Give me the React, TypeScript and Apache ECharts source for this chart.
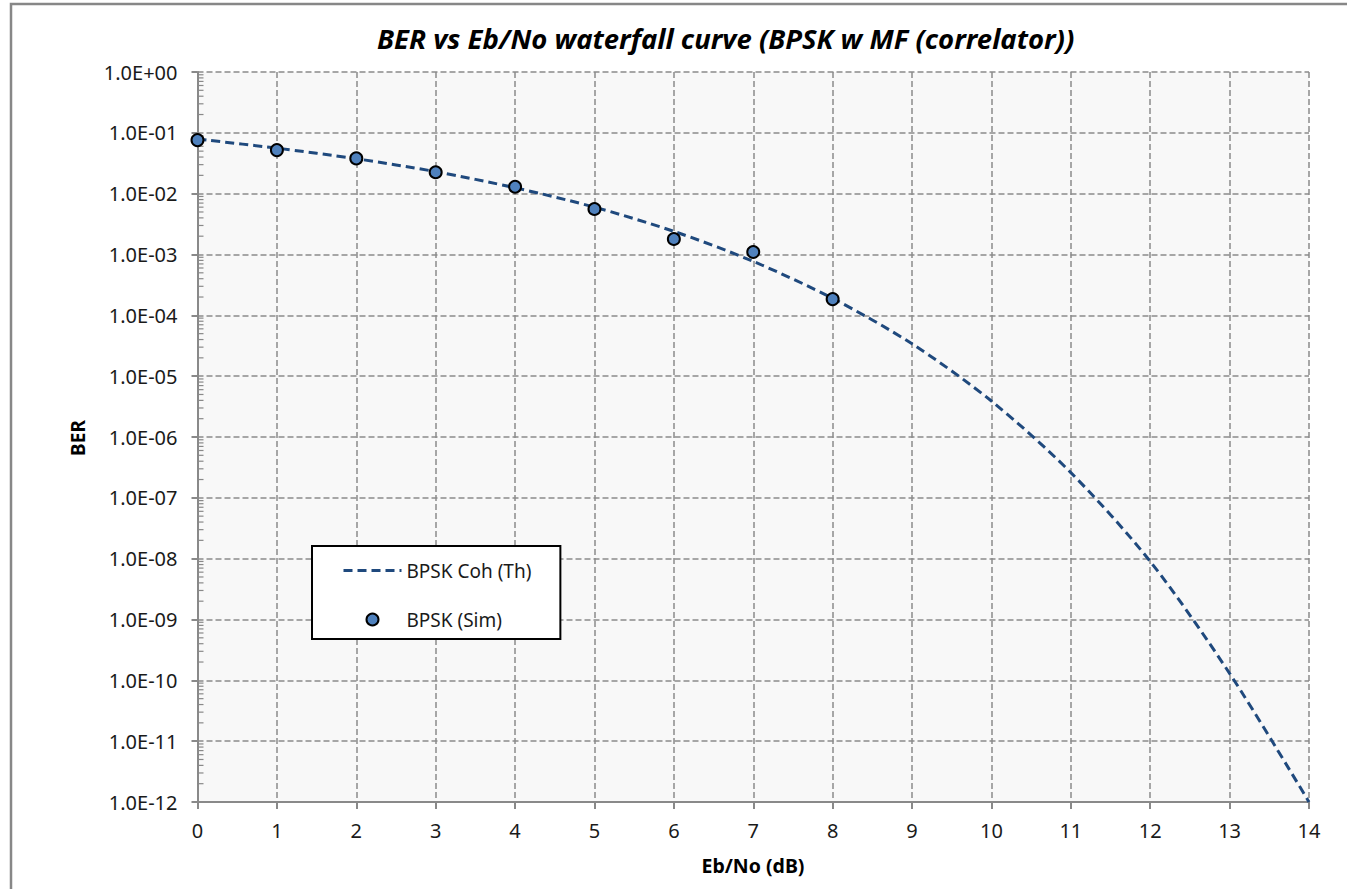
import React, { useEffect, useRef } from "react";
import * as echarts from "echarts";

const ebNo = [0, 1, 2, 3, 4, 5, 6, 7, 8, 9, 10, 11, 12, 13, 14];
const berTheory = [7.9e-2, 5.6e-2, 3.75e-2, 2.3e-2, 1.25e-2, 6.0e-3, 2.4e-3, 7.7e-4, 1.9e-4, 3.4e-5, 3.9e-6, 2.6e-7, 9.0e-9, 1.3e-10, 1.0e-12];
const ebNoSim = [0, 1, 2, 3, 4, 5, 6, 7, 8];
const berSim = [7.6e-2, 5.2e-2, 3.8e-2, 2.25e-2, 1.3e-2, 5.6e-3, 1.8e-3, 1.1e-3, 1.85e-4];
const minorMultipliers = [2, 3, 4, 5, 6, 7, 8, 9];
const decades = [-12, -11, -10, -9, -8, -7, -6, -5, -4, -3, -2, -1];

const FONT = "Noto Sans";
const LINE_COLOR = "#1F497D";
const DASH = [9, 5];

function fmtExp(v: number): string {
  const e = Math.round(Math.log10(v));
  const sign = e < 0 ? "-" : "+";
  const a = Math.abs(e);
  return "1.0E" + sign + (a < 10 ? "0" + a : String(a));
}

export default function App() {
  const ref = useRef<HTMLDivElement>(null);
  useEffect(() => {
    if (!ref.current) return;
    const chart = echarts.init(ref.current, null, { renderer: "svg" });
    const minorData: number[][] = [];
    decades.forEach((d) => minorMultipliers.forEach((m) => minorData.push([0, m * Math.pow(10, d)])));
    const gridLine = { show: true, lineStyle: { color: "#8a8a8a", width: 1.5, type: [6, 3] as any } };
    chart.setOption({
      animation: false,
      backgroundColor: "#ffffff",
      title: {
        text: "BER vs Eb/No waterfall curve (BPSK w MF (correlator))",
        left: 372,
        top: 20,
        textStyle: { fontFamily: FONT, fontSize: 27.5, fontWeight: "bold", fontStyle: "italic", color: "#000" },
      },
      grid: { left: 197.5, top: 72, right: 38, bottom: 87, show: true, backgroundColor: "#f8f8f8", borderWidth: 0 },
      legend: {
        orient: "vertical",
        left: 312,
        top: 546,
        padding: [15, 29, 10, 30],
        itemWidth: 58,
        itemHeight: 12,
        itemGap: 30,
        backgroundColor: "#ffffff",
        borderColor: "#000000",
        borderWidth: 2,
        borderRadius: 0,
        textStyle: { fontFamily: FONT, fontSize: 19, color: "#1a1a1a" },
        data: [
          {
            name: "BPSK Coh (Th)",
            itemStyle: { color: "rgba(0,0,0,0)", borderWidth: 0, opacity: 0 },
            lineStyle: { color: LINE_COLOR, width: 3, type: DASH as any },
          },
          { name: "BPSK (Sim)" },
        ],
      },
      xAxis: {
        type: "value",
        min: 0,
        max: 14,
        interval: 1,
        axisLine: { show: true, onZero: false, lineStyle: { color: "#898989", width: 2 } },
        axisTick: { show: true, length: 7, lineStyle: { color: "#898989", width: 2 } },
        axisLabel: { fontFamily: FONT, fontSize: 20, color: "#1a1a1a", margin: 18 },
        splitLine: gridLine,
      },
      yAxis: {
        type: "log",
        logBase: 10,
        min: 1e-12,
        max: 1,
        interval: 1,
        axisLine: { show: true, onZero: false, lineStyle: { color: "#898989", width: 2 } },
        axisTick: { show: true, length: 6, lineStyle: { color: "#898989", width: 2 } },
        axisLabel: { fontFamily: FONT, fontSize: 20, color: "#1a1a1a", margin: 20, formatter: (v: number) => fmtExp(v) },
        splitLine: gridLine,
      },
      graphic: [
        { type: "rect", shape: { x: 11, y: 4, width: 1400, height: 1000 }, style: { fill: "none", stroke: "#878787", lineWidth: 2.5 }, silent: true, z: 0 },
        { type: "text", x: 78, y: 438, rotation: Math.PI / 2, style: { text: "BER", fontFamily: FONT, fontSize: 19, fontWeight: "bold", fill: "#000", align: "center", verticalAlign: "middle" } },
        { type: "text", x: 753, y: 865, style: { text: "Eb/No (dB)", fontFamily: FONT, fontSize: 19.5, fontWeight: "bold", fill: "#000", align: "center", verticalAlign: "middle" } },
      ],
      series: [
        {
          type: "custom",
          silent: true,
          z: 1,
          data: minorData,
          renderItem: (params: any, api: any) => {
            const p = api.coord([api.value(0), api.value(1)]);
            return { type: "line", shape: { x1: p[0], y1: p[1], x2: p[0] + 6, y2: p[1] }, style: { stroke: "#898989", lineWidth: 1.2 } };
          },
        },
        {
          name: "BPSK Coh (Th)",
          type: "line",
          data: ebNo.map((x, i) => [x, berTheory[i]]),
          symbol: "none",
          smooth: 0.3,
          z: 2,
          lineStyle: { color: LINE_COLOR, width: 3, type: DASH as any },
          itemStyle: { color: LINE_COLOR },
        },
        {
          name: "BPSK (Sim)",
          type: "scatter",
          data: ebNoSim.map((x, i) => [x, berSim[i]]),
          symbol: "circle",
          symbolSize: 12,
          symbolKeepAspect: true,
          z: 3,
          itemStyle: { color: "#4F81BD", borderColor: "#000000", borderWidth: 2, opacity: 1 },
        },
      ],
    });
    return () => chart.dispose();
  }, []);
  return <div ref={ref} style={{ position: "absolute", left: 0, top: 0, width: 1347, height: 889 }} />;
}
